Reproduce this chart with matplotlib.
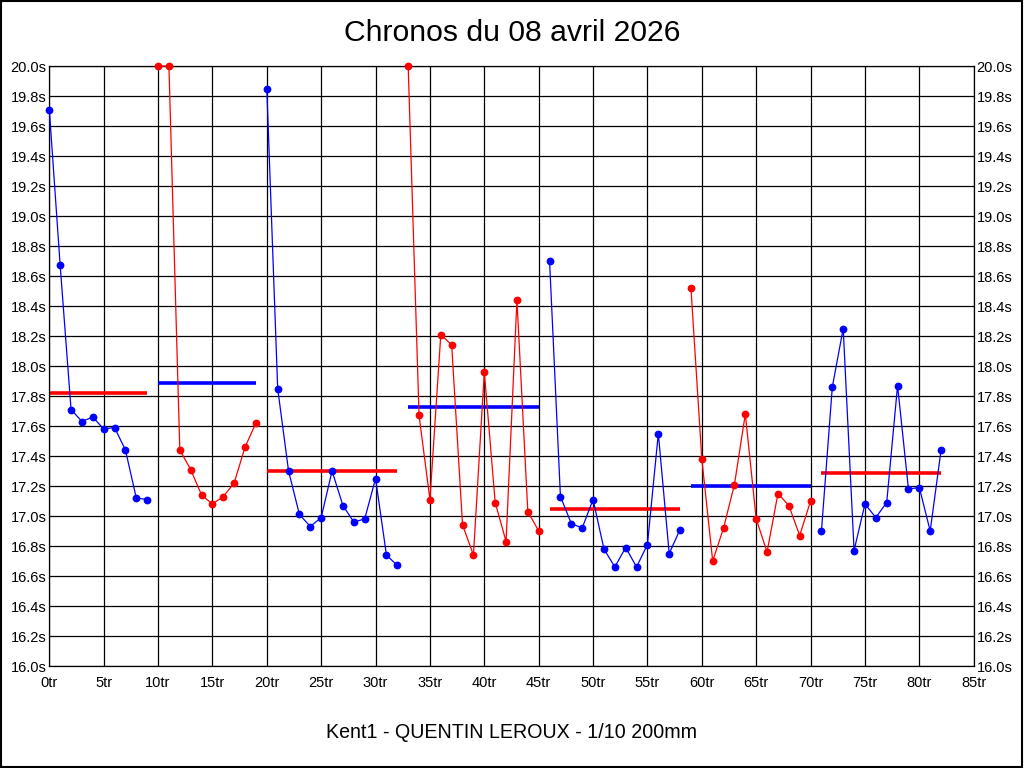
import numpy as np
import matplotlib.pyplot as plt
from matplotlib.patches import Rectangle

plt.rcParams['font.family'] = ['Liberation Sans', 'DejaVu Sans']

# Temps au tour (s), valeurs au-dessus de 20 s affichees a 20.0
chronos = [
    19.71, 18.67, 17.71, 17.63, 17.66, 17.58, 17.59, 17.44, 17.12, 17.11,           # 0-9
    20.0, 20.0, 17.44, 17.31, 17.14, 17.08, 17.13, 17.22, 17.46, 17.62,             # 10-19
    19.85, 17.85, 17.30, 17.01, 16.93, 16.99, 17.30, 17.07, 16.96, 16.98,
    17.25, 16.74, 16.67,                                                            # 20-32
    20.0, 17.67, 17.11, 18.21, 18.14, 16.94, 16.74, 17.96, 17.09, 16.83,
    18.44, 17.03, 16.90,                                                            # 33-45
    18.70, 17.13, 16.95, 16.92, 17.11, 16.78, 16.66, 16.79, 16.66, 16.81,
    17.55, 16.75, 16.91,                                                            # 46-58
    18.52, 17.38, 16.70, 16.92, 17.21, 17.68, 16.98, 16.76, 17.15, 17.07,
    16.87, 17.10,                                                                   # 59-70
    16.90, 17.86, 18.25, 16.77, 17.08, 16.99, 17.09, 17.87, 17.18, 17.19,
    16.90, 17.44,                                                                   # 71-82
]
debuts = [0, 10, 20, 33, 46, 59, 71]
moyennes = [17.82, 17.89, 17.30, 17.73, 17.05, 17.20, 17.29]
couleurs = ['blue', 'red']

fig = plt.figure(figsize=(10.24, 7.68), dpi=100)
ax = fig.add_axes([49.3 / 1024, 1 - 666 / 768, 924.4 / 1024, 600 / 768])

tours = np.arange(len(chronos))
bornes = debuts + [len(chronos)]
for i in range(len(debuts)):
    a, b = bornes[i], bornes[i + 1]
    c = couleurs[i % 2]
    ax.plot(tours[a:b], chronos[a:b], color=c, lw=0.9, marker='o', ms=4.6,
            clip_on=False, zorder=3)
    # moyenne de la serie, dans l'autre couleur
    ax.plot([tours[a], tours[b - 1]], [moyennes[i], moyennes[i]],
            color=couleurs[(i + 1) % 2], lw=2.6, solid_capstyle='butt', zorder=2)

ax.set_xlim(0, 85)
ax.set_ylim(16.0, 20.0)
xt = np.arange(0, 86, 5)
yt = np.arange(16.0, 20.01, 0.2)
ax.set_xticks(xt)
ax.set_xticklabels([f'{v}tr' for v in xt])
ax.set_yticks(yt)
ax.set_yticklabels([f'{v:.1f}s' for v in yt])
ax.tick_params(axis='both', length=0, labelsize=10.5, colors='black')
ax.tick_params(axis='x', pad=7)
ax.tick_params(axis='y', pad=2, labelright=True)
ax.grid(True, color='black', lw=0.9)
for s in ax.spines.values():
    s.set_linewidth(0.9)

fig.text(0.5, 1 - 33 / 768, 'Chronos du 08 avril 2026', ha='center', va='center', fontsize=21.7)
fig.text(0.5, 1 - 733 / 768, 'Kent1 - QUENTIN LEROUX - 1/10 200mm',
         ha='center', va='center', fontsize=14.1)
fig.patches.append(Rectangle((0.0005, 0.0007), 0.998, 0.998, transform=fig.transFigure,
                             fill=False, edgecolor='black', lw=1.5))

fig.savefig('out.png', dpi=100)
